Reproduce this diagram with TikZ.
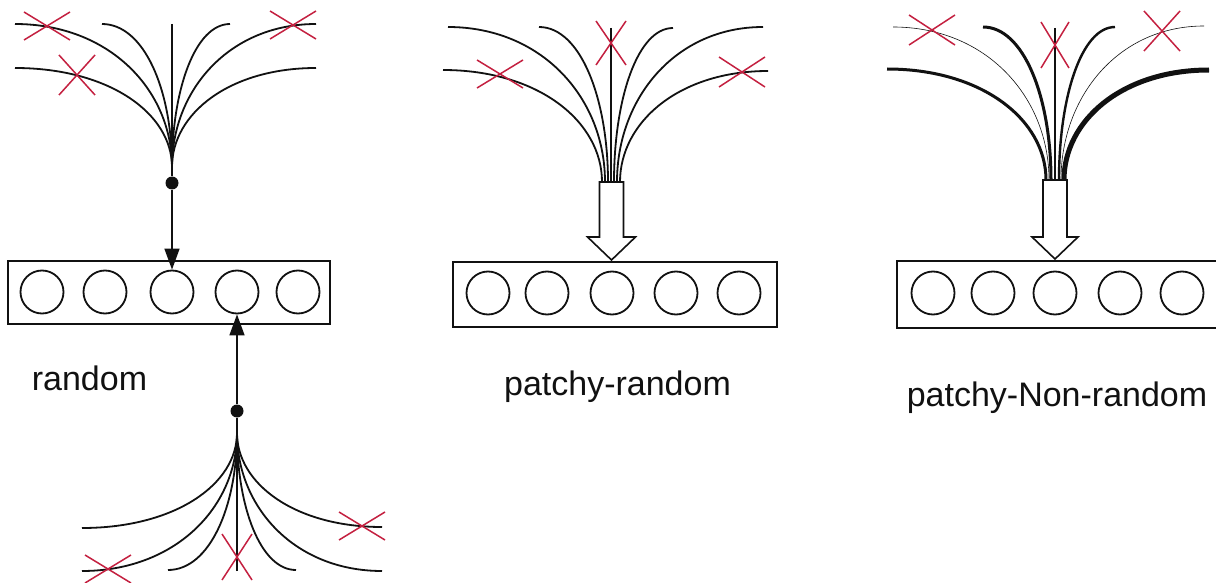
\documentclass[tikz,border=0pt]{standalone}
\usepackage{fontspec}
\setmainfont{Liberation Sans}
\usetikzlibrary{arrows.meta,calc}
\definecolor{xred}{RGB}{196,32,64}
\definecolor{ink}{RGB}{17,17,17}
\newcommand{\fanline}[3][]{\draw[fan,#1] (#2) .. controls ($(#2)!0.6!(#2 -| #3)$) and ($(#3)!0.54!(#3 |- #2)$) .. (#3);}
\newcommand{\xcross}[3]{\draw[xline] ($(#1)+(-#2,-#3)$) -- ($(#1)+(#2,#3)$) ($(#1)+(-#2,#3)$) -- ($(#1)+(#2,-#3)$);}
\tikzset{
  fan/.style={draw=ink,line width=1.8pt},
  xline/.style={draw=xred,line width=1.5pt},
  boxframe/.style={draw=ink,line width=1.6pt},
  unit/.style={circle,draw=ink,line width=1.8pt,minimum size=43pt,inner sep=0pt},
  dotnode/.style={circle,fill=ink,minimum size=13pt,inner sep=0pt},
  sarrow/.style={draw=ink,line width=1.6pt,-{Triangle[length=21pt,width=15pt]}},
  hol/.style={draw=ink,line width=1.6pt,fill=white},
  lab/.style={font=\fontsize{34}{40}\selectfont,anchor=base,text=ink,inner sep=0pt}
}
\begin{document}
\begin{tikzpicture}[x=1pt,y=-1pt]
\useasboundingbox (0,0) rectangle (1216,583);
\clip (0,0) rectangle (1216,583);
\fill[white] (0,0) rectangle (1216,583);

% ================= LEFT: random =================
\draw[boxframe] (8,261) rectangle (330,324);
\foreach \n/\x in {1/42,2/105,3/172,4/237,5/298}
  \node[unit] (L\n) at (\x,292) {};
% top fan
\coordinate (Ltc) at (172,167);
\coordinate (Lt1) at (15,24);
\coordinate (Lt2) at (15,68);
\coordinate (Lt3) at (102,24);
\coordinate (Lt4) at (172,24);
\coordinate (Lt5) at (230,24);
\coordinate (Lt6) at (316,24);
\coordinate (Lt7) at (316,68);
\foreach \p in {Lt1,Lt2,Lt3,Lt5,Lt6,Lt7} {\fanline{\p}{Ltc}}
\node[dotnode] (Ldt) at (172,183) {};
\draw[fan] (Lt4) -- (Ldt);
\draw[sarrow] (Ldt) -- (L3.north);
\coordinate (xa) at (47,26);  \xcross{xa}{23}{14}
\coordinate (xb) at (77,75);  \xcross{xb}{18}{20}
\coordinate (xc) at (293,25); \xcross{xc}{23}{14}
% bottom fan
\coordinate (Lbc) at (237,433);
\coordinate (Lb1) at (82,528);
\coordinate (Lb2) at (82,571);
\coordinate (Lb3) at (168,570);
\coordinate (Lb4) at (237,571);
\coordinate (Lb5) at (296,570);
\coordinate (Lb6) at (382,527);
\coordinate (Lb7) at (382,571);
\foreach \p in {Lb1,Lb2,Lb3,Lb5,Lb6,Lb7} {\fanline{\p}{Lbc}}
\node[dotnode] (Ldb) at (237,411) {};
\draw[fan] (Lb4) -- (Ldb);
\draw[sarrow] (Ldb) -- (L4.south);
\coordinate (xd) at (108,569); \xcross{xd}{23}{14}
\coordinate (xe) at (237,557); \xcross{xe}{15}{23}
\coordinate (xf) at (362,526); \xcross{xf}{23}{14}
\node[lab] (labL) at (89.5,390) {random};

% ================= MIDDLE: patchy-random =================
\draw[boxframe] (453,262) rectangle (777,327);
\foreach \n/\x in {1/488,2/547,3/612,4/676,5/739}
  \node[unit] (M\n) at (\x,293) {};
\coordinate (Mt1) at (443,70);  \coordinate (Me1) at (602,182);
\coordinate (Mt2) at (448,27);  \coordinate (Me2) at (605,182);
\coordinate (Mt3) at (539,27);  \coordinate (Me3) at (608,182);
\coordinate (Mt4) at (611,28);  \coordinate (Me4) at (611,182);
\coordinate (Mt5) at (673,28);  \coordinate (Me5) at (614,182);
\coordinate (Mt6) at (763,27);  \coordinate (Me6) at (617,182);
\coordinate (Mt7) at (768,71);  \coordinate (Me7) at (620,182);
\foreach \i in {1,2,3,5,6,7} {\fanline{Mt\i}{Me\i}}
\draw[fan] (Mt4) -- (Me4);
\draw[hol] (Me4) ++(-11.5,0) -- ++(0,55) -- ++(-12,0) -- ++(24,23) -- ++(24,-23) -- ++(-12,0) -- ++(0,-55) -- cycle;
\coordinate (xg) at (500,74); \xcross{xg}{23}{14}
\coordinate (xh) at (611,43); \xcross{xh}{15}{22}
\coordinate (xi) at (742,72); \xcross{xi}{23}{15}
\node[lab] (labM) at (617.5,395) {patchy-random};

% ================= RIGHT: patchy-Non-random =================
\draw[boxframe] (897,261) rectangle (1230,328);
\foreach \n/\x in {1/933,2/993,3/1055,4/1120,5/1182}
  \node[unit] (R\n) at (\x,293) {};
\coordinate (Rt1) at (887,69);   \coordinate (Re1) at (1046,180);
\coordinate (Rt2) at (893,27);   \coordinate (Re2) at (1049,180);
\coordinate (Rt3) at (983,27);   \coordinate (Re3) at (1051,180);
\coordinate (Rt4) at (1055,28);  \coordinate (Re4) at (1055,180);
\coordinate (Rt5) at (1115,27);  \coordinate (Re5) at (1059,180);
\coordinate (Rt6) at (1204,26);  \coordinate (Re6) at (1061,180);
\coordinate (Rt7) at (1209,70);  \coordinate (Re7) at (1064,180);
\fanline[line width=3pt]{Rt1}{Re1}
\fanline[line width=0.6pt]{Rt2}{Re2}
\fanline[line width=3pt]{Rt3}{Re3}
\fanline[line width=2.4pt]{Rt5}{Re5}
\fanline[line width=0.6pt]{Rt6}{Re6}
\fanline[line width=5pt]{Rt7}{Re7}
\draw[fan,line width=1.6pt] (Rt4) -- (Re4);
\draw[hol] (Re4) ++(-12,0) -- ++(0,57) -- ++(-11,0) -- ++(23,22) -- ++(23,-22) -- ++(-11,0) -- ++(0,-57) -- cycle;
\coordinate (xj) at (932,30);  \xcross{xj}{23}{15}
\coordinate (xk) at (1055,45); \xcross{xk}{14}{23}
\coordinate (xl) at (1162,31); \xcross{xl}{18}{20}
\node[lab] (labR) at (1057,406) {patchy-Non-random};
\end{tikzpicture}
\end{document}
